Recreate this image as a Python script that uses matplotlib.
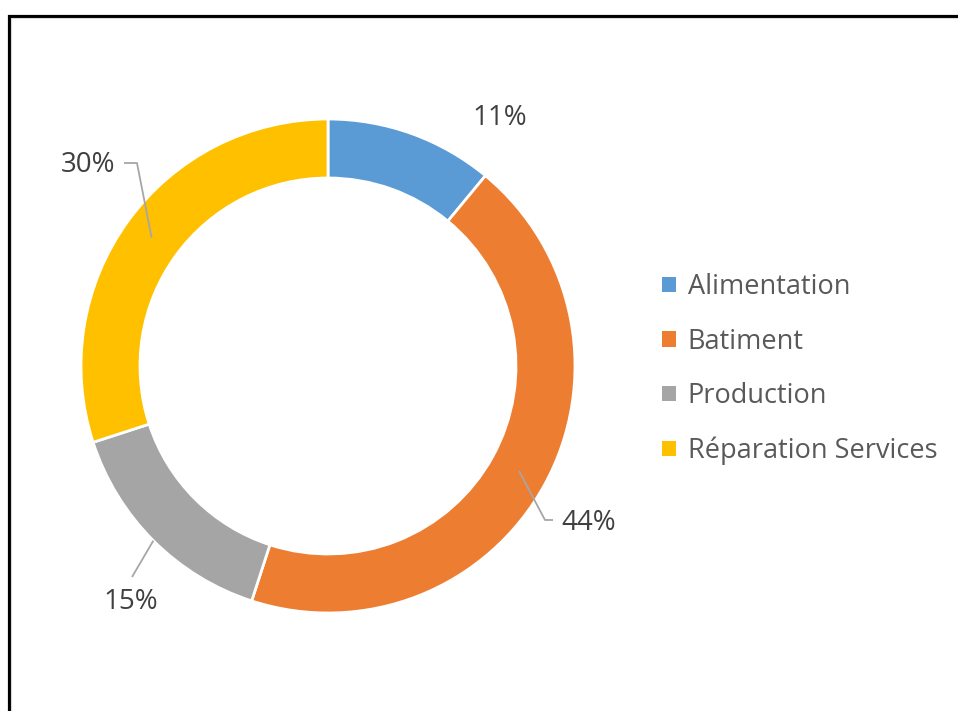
import matplotlib
matplotlib.use("Agg")
import matplotlib.pyplot as plt
import numpy as np
from matplotlib.patches import Patch

categories = ["Alimentation", "Batiment", "Production", "Réparation Services"]
values = [11, 44, 15, 30]
colors = ["#5B9BD5", "#ED7D31", "#A5A5A5", "#FFC000"]

W, H = 958, 711
CX, CY = 328, 366          # donut centre, pixels from top-left
R_OUT, R_IN = 247, 188

plt.rcParams["font.family"] = ["Open Sans", "DejaVu Sans"]

fig = plt.figure(figsize=(W / 100, H / 100), dpi=100)
ax = fig.add_axes([0, 0, 1, 1])
ax.set_xlim(0, W)
ax.set_ylim(0, H)
ax.set_aspect("equal")
ax.axis("off")


def py(y):
    return H - y


wedges, _ = ax.pie(
    values, colors=colors, startangle=90, counterclock=False,
    radius=R_OUT, center=(CX, py(CY)),
    wedgeprops=dict(width=R_OUT - R_IN, edgecolor="white", linewidth=2.0),
)
ax.set_xlim(0, W)
ax.set_ylim(0, H)

# label positions (pixels), leader start radius, elbow point
labels = [
    dict(xy=(500, 118), r=None, elbow=None),
    dict(xy=(589, 523), r=218, elbow=(545, 520), end=(553, 520)),
    dict(xy=(131, 602), r=247, elbow=None, end=(132, 577)),
    dict(xy=(88, 165), r=218, elbow=(137, 163), end=(124, 163)),
]

cum = np.cumsum([0] + values[:-1])
for v, c0, lab in zip(values, cum, labels):
    ax.text(lab["xy"][0], py(lab["xy"][1]), f"{v}%", ha="center", va="center",
            fontsize=20, color="#404040")
    if lab["r"] is None:
        continue
    mid = np.deg2rad((c0 + v / 2) / 100 * 360)
    sx = CX + lab["r"] * np.sin(mid)
    sy = CY - lab["r"] * np.cos(mid)
    pts = [(sx, sy)]
    if lab["elbow"] is not None:
        pts.append(lab["elbow"])
    pts.append(lab["end"])
    xs = [p[0] for p in pts]
    ys = [py(p[1]) for p in pts]
    ax.plot(xs, ys, color="#A6A6A6", lw=1.3, solid_capstyle="butt")

# frame
ax.plot([9.5, 9.5, W + 5], [-5, py(15.5), py(15.5)], color="black", lw=2.3,
        solid_joinstyle="miter")
ax.plot([11.5, 11.5, W + 5], [-5, py(17.5), py(17.5)], color="#D9D9D9", lw=0.8)

handles = [Patch(facecolor=c, edgecolor="none") for c in colors]
leg = ax.legend(handles, categories, loc="upper left",
                bbox_to_anchor=(662 / W, 1 - 273 / H),
                frameon=False, fontsize=19.5, handlelength=0.5, handleheight=0.5,
                handletextpad=0.45, labelspacing=0.98, borderpad=0, borderaxespad=0)
for t in leg.get_texts():
    t.set_color("#595959")

fig.savefig("out.png", dpi=100)
